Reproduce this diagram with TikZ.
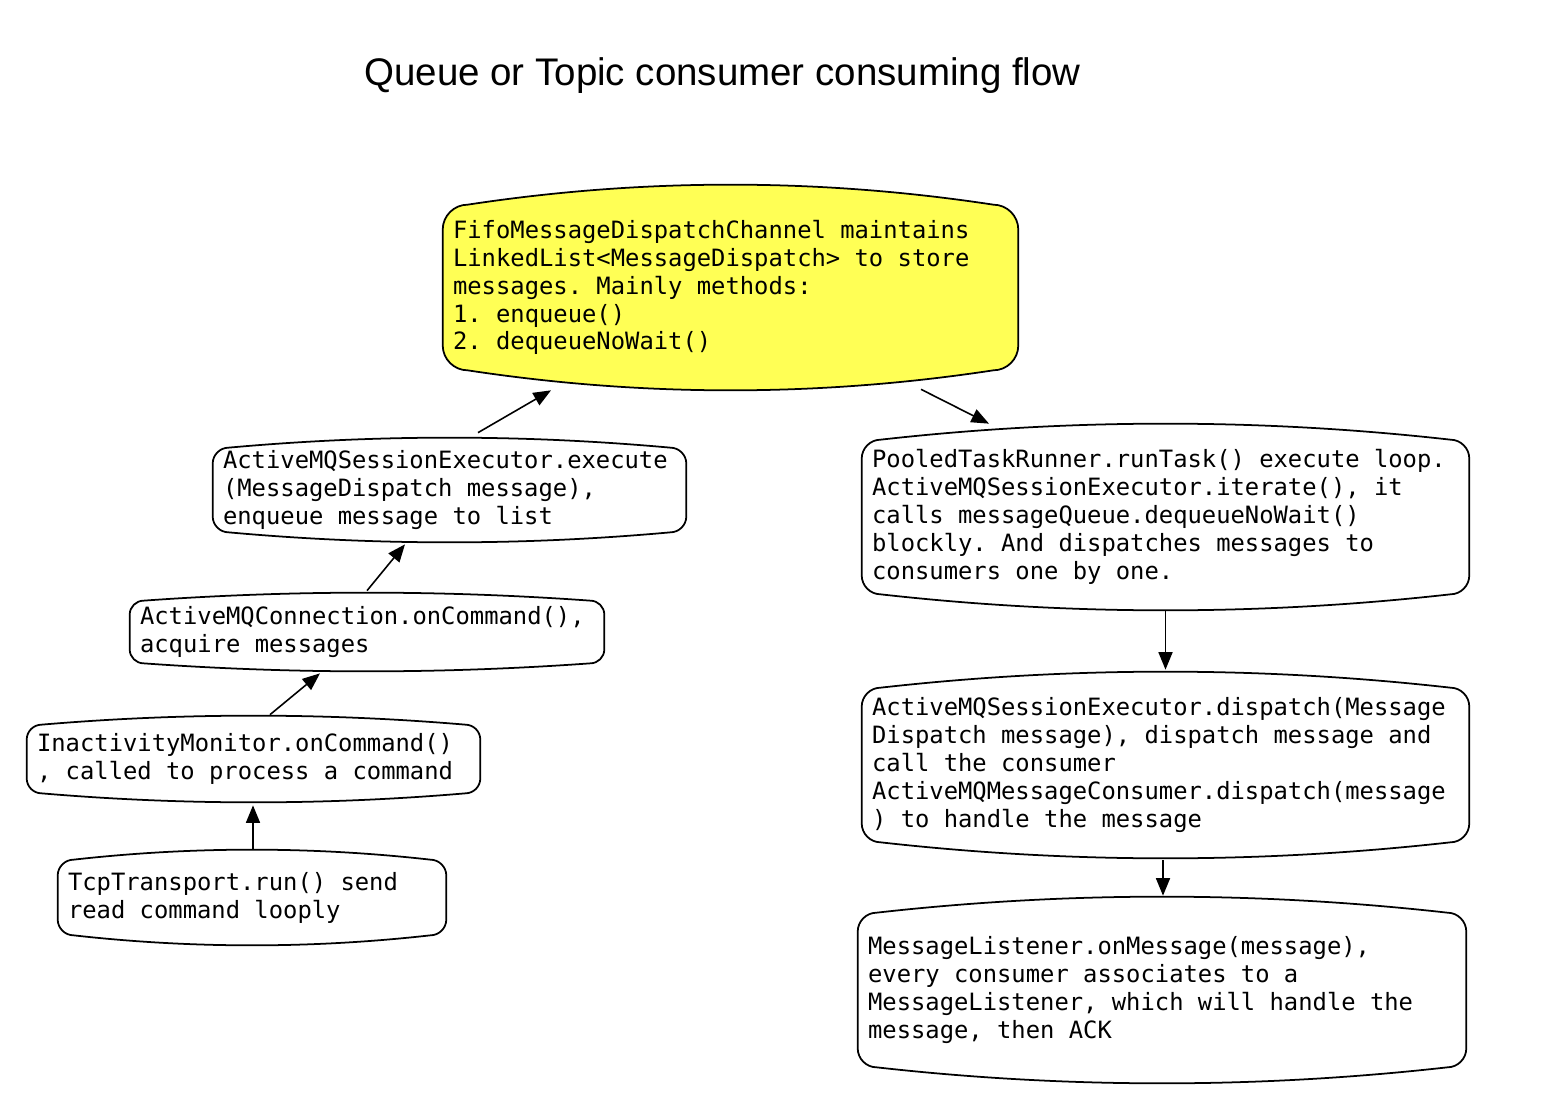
\documentclass[tikz,border=0pt]{standalone}
\usepackage{fontspec}
\setmainfont{Liberation Sans}
\setmonofont{DejaVu Sans Mono}
\usepackage{tikz}
\usetikzlibrary{arrows.meta,calc,backgrounds}
\definecolor{noteyellow}{HTML}{FFFF55}

\newcommand{\monofont}{\ttfamily\fontsize{13.56}{15.88}\selectfont}
\newcommand{\monospacing}{\spaceskip=0.602em\relax\xspaceskip=0.602em\relax}

% bowed box outline round a node: #2 node, #3 corner, #4 bow
\newcommand{\blob}[4][]{%
  \draw[line width=1pt,#1] let \p1=(#2.north west), \p2=(#2.south east) in
    (\x1,\y1-#4-#3) .. controls (\x1,\y1-#4-0.45*#3) and (\x1+0.45*#3,\y1-#4) .. (\x1+#3,\y1-#4)
    .. controls ({\x1+#3+(\x2-\x1-2*#3)/3},\y1+#4/3) and ({\x2-#3-(\x2-\x1-2*#3)/3},\y1+#4/3) .. (\x2-#3,\y1-#4)
    .. controls (\x2-0.45*#3,\y1-#4) and (\x2,\y1-#4-0.45*#3) .. (\x2,\y1-#4-#3)
    -- (\x2,\y2+#4+#3)
    .. controls (\x2,\y2+#4+0.45*#3) and (\x2-0.45*#3,\y2+#4) .. (\x2-#3,\y2+#4)
    .. controls ({\x2-#3-(\x2-\x1-2*#3)/3},\y2-#4/3) and ({\x1+#3+(\x2-\x1-2*#3)/3},\y2-#4/3) .. (\x1+#3,\y2+#4)
    .. controls (\x1+0.45*#3,\y2+#4) and (\x1,\y2+#4+0.45*#3) .. (\x1,\y2+#4+#3)
    -- cycle;}

\begin{document}
\begin{tikzpicture}[x=0.02cm,y=-0.02cm,
    flowbox/.style={align=left,inner xsep=0.2cm,inner ysep=0pt,font=\monofont,
      execute at begin node=\monospacing},
    flow/.style={-{Triangle[length=10pt,width=8pt]},line width=0.9pt}]
  \useasboundingbox (0,0) rectangle (1542,1118);
  % title
  \node[anchor=base,font=\fontsize{21.9}{26}\selectfont] (title) at (722.5,86) {Queue or Topic consumer consuming flow};
  % channel
  \node[flowbox,text width=11.1cm,minimum height=4.1cm] (fifo) at (730.5,287.5)
    {FifoMessageDispatchChannel maintains\\LinkedList<MessageDispatch> to store\\messages. Mainly methods:\\1. enqueue()\\2. dequeueNoWait()};
  % left side, bottom up
  \node[flowbox,text width=9.06cm,minimum height=2.08cm] (exec) at (449.5,490)
    {ActiveMQSessionExecutor.execute\\(MessageDispatch message),\\enqueue message to list};
  \node[flowbox,text width=9.08cm,minimum height=1.56cm] (conn) at (367,632)
    {ActiveMQConnection.onCommand(),\\acquire messages};
  \node[flowbox,text width=8.66cm,minimum height=1.72cm] (inact) at (253.5,759)
    {InactivityMonitor.onCommand()\\, called to process a command};
  \node[flowbox,text width=7.36cm,minimum height=1.9cm] (tcp) at (252,897.5)
    {TcpTransport.run() send\\read command looply};
  % right side, top down
  \node[flowbox,text width=11.74cm,minimum height=3.72cm] (pooled) at (1165.5,517)
    {PooledTaskRunner.runTask() execute loop.\\ActiveMQSessionExecutor.iterate(), it\\calls messageQueue.dequeueNoWait()\\blockly. And dispatches messages to\\consumers one by one.};
  \node[flowbox,text width=11.74cm,minimum height=3.72cm] (dispatch) at (1165.5,765)
    {ActiveMQSessionExecutor.dispatch(Message\\Dispatch message), dispatch message and\\call the consumer\\ActiveMQMessageConsumer.dispatch(message\\) to handle the message};
  \node[flowbox,text width=11.76cm,minimum height=3.72cm] (listener) at (1162,990)
    {MessageListener.onMessage(message),\\every consumer associates to a\\MessageListener, which will handle the\\message, then ACK};
  % outlines
  \begin{scope}[on background layer]
    \blob[fill=noteyellow]{fifo}{0.5cm}{0.4cm}
    \blob{exec}{0.32cm}{0.2cm}
    \blob{conn}{0.28cm}{0.16cm}
    \blob{inact}{0.3cm}{0.18cm}
    \blob{tcp}{0.32cm}{0.2cm}
    \blob{pooled}{0.38cm}{0.32cm}
    \blob{dispatch}{0.38cm}{0.32cm}
    \blob{listener}{0.38cm}{0.32cm}
  \end{scope}
  % arrows
  \draw[flow] ($(tcp.north)+(1,-1)$) -- ($(inact.south)+(-0.5,3)$);
  \draw[flow] ($(inact.north)+(16.5,-1)$) -- ($(conn.south)+(-47,2)$);
  \draw[flow] ($(conn.north)+(0,-2)$) -- ($(exec.south)+(-44.5,2)$);
  \draw[flow] ($(exec.north)+(28.5,-5)$) -- ($(fifo.south)+(-179.5,0)$);
  \draw[flow] ($(fifo.south)+(190.5,-1)$) -- ($(pooled.north)+(-176.5,0)$);
  \draw[flow] ($(pooled.south)+(0,1)$) -- ($(dispatch.north)+(0,-2)$);
  \draw[flow] ($(dispatch.south)+(-2.5,2)$) -- ($(listener.north)+(1,-1)$);
\end{tikzpicture}
\end{document}
